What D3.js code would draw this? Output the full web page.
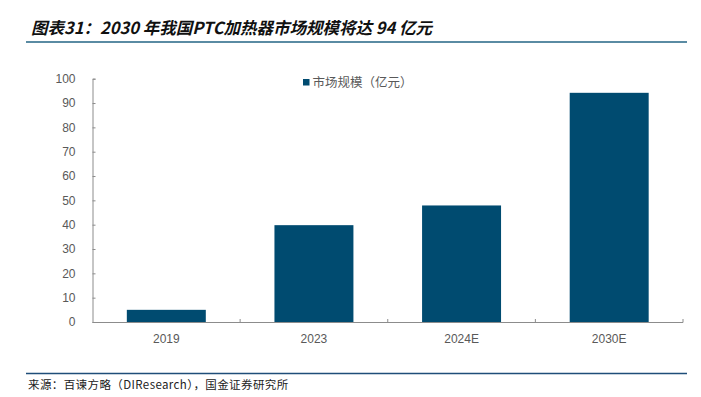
<!DOCTYPE html>
<html>
<head>
<meta charset="utf-8">
<script src="https://cdn.jsdelivr.net/npm/d3@7"></script>
<style>
  html, body { margin: 0; padding: 0; background: #fff; }
  svg { display: block; }
</style>
</head>
<body>
<div id="chart"></div>
<script>
// chart data
var categories = ["2019", "2023", "2024E", "2030E"];
var values = [5, 39.8, 47.9, 94.2];
var yTicks = [0, 10, 20, 30, 40, 50, 60, 70, 80, 90, 100];
var seriesName = "市场规模（亿元）";
var titleText = "图表31：2030 年我国PTC加热器市场规模将达 94 亿元";
var sourceText = "来源：百谏方略（DIResearch），国金证券研究所";

var W = 701, H = 397;
var cjk = "'Noto Sans CJK SC', 'Noto Sans', sans-serif";
var latin = "'Liberation Sans', Arial, " + cjk;

var svg = d3.select("#chart")
  .append("svg")
    .attr("width", W)
    .attr("height", H);

// title and the rule under it
svg.append("text")
  .attr("x", 31)
  .attr("y", 34)
  .attr("font-family", cjk)
  .attr("font-size", 16.5)
  .attr("font-weight", "bold")
  .attr("font-style", "italic")
  .attr("fill", "#111")
  .text(titleText);

svg.append("line")
  .attr("x1", 26).attr("x2", 687)
  .attr("y1", 42).attr("y2", 42)
  .attr("stroke", "#5a8ba3")
  .attr("stroke-width", 2);

// plot area
var plotLeft = 92.5, plotRight = 683, plotTop = 78.7, plotBottom = 322;

var xScale = d3.scaleBand()
  .domain(categories)
  .range([plotLeft, plotRight])
  .paddingInner(0.465)
  .paddingOuter(0.2325);

var xCells = d3.scaleBand()
  .domain(categories)
  .range([plotLeft, plotRight]);

var yScale = d3.scaleLinear()
  .domain([0, 100])
  .range([plotBottom, plotTop]);

// y axis, ticks pointing inward
var yAxis = svg.append("g")
  .attr("transform", "translate(" + plotLeft + ",0)")
  .call(d3.axisLeft(yScale).tickValues(yTicks).tickSize(-3).tickPadding(17));
yAxis.select(".domain").attr("stroke", "#8c8c8c");
yAxis.selectAll(".tick line").attr("stroke", "#8c8c8c");
yAxis.selectAll("text")
  .attr("font-family", latin)
  .attr("font-size", 12)
  .attr("fill", "#595959");

// bars
svg.append("g")
  .selectAll("rect")
  .data(values)
  .join("rect")
    .attr("x", function(d, i) { return xScale(categories[i]); })
    .attr("width", xScale.bandwidth())
    .attr("y", function(d) { return yScale(d); })
    .attr("height", function(d) { return plotBottom - yScale(d); })
    .attr("fill", "#004b70");

// x axis: labels centred under bars, ticks on category borders
var xAxis = svg.append("g")
  .attr("transform", "translate(0," + plotBottom + ")")
  .call(d3.axisBottom(xScale).tickSize(0).tickPadding(12));
xAxis.select(".domain").remove();
xAxis.selectAll("text")
  .attr("font-family", latin)
  .attr("font-size", 12)
  .attr("fill", "#595959");

var borders = categories.map(function(c) { return xCells(c) + xCells.bandwidth(); });
svg.append("line")
  .attr("x1", plotLeft).attr("x2", plotRight)
  .attr("y1", plotBottom + 0.5).attr("y2", plotBottom + 0.5)
  .attr("stroke", "#8c8c8c");
svg.append("g")
  .selectAll("line")
  .data(borders)
  .join("line")
    .attr("x1", function(d) { return d; })
    .attr("x2", function(d) { return d; })
    .attr("y1", plotBottom + 0.5)
    .attr("y2", plotBottom - 3)
    .attr("stroke", "#8c8c8c");

// legend
var legend = svg.append("g").attr("transform", "translate(303,79)");
legend.append("rect")
  .attr("width", 6.5).attr("height", 6.5)
  .attr("fill", "#004b70");
legend.append("text")
  .attr("x", 9.5)
  .attr("y", 7.5)
  .attr("font-family", cjk)
  .attr("font-size", 12.5)
  .attr("fill", "#595959")
  .text(seriesName);

// footer
svg.append("line")
  .attr("x1", 26).attr("x2", 687)
  .attr("y1", 373.5).attr("y2", 373.5)
  .attr("stroke", "#1f4e79")
  .attr("stroke-width", 1.3);

svg.append("text")
  .attr("x", 28)
  .attr("y", 389)
  .attr("font-family", cjk)
  .attr("font-size", 11.5)
  .attr("letter-spacing", 0.4)
  .attr("fill", "#222")
  .text(sourceText);
</script>
</body>
</html>
